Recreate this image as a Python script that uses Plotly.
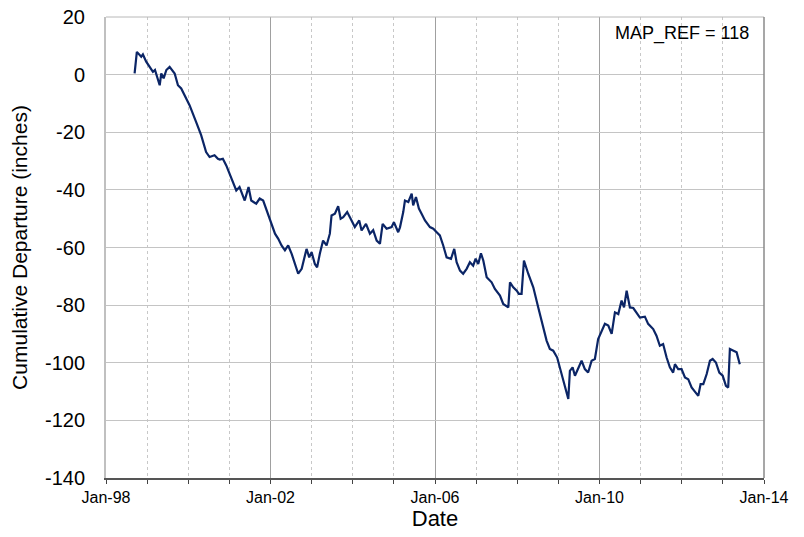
import plotly.graph_objects as go

# Cumulative departure series (date, inches)
dates = [
    "1998-09-12", "1998-10-02", "1998-11-10", "1998-11-25", "1998-12-24", "1999-01-24",
    "1999-02-22", "1999-03-12", "1999-04-23", "1999-05-07", "1999-05-28", "1999-06-21",
    "1999-07-20", "1999-09-03", "1999-10-02", "1999-10-31", "1999-12-14", "2000-01-13",
    "2000-03-11", "2000-04-25", "2000-06-08", "2000-07-09", "2000-08-22", "2000-09-21",
    "2000-10-08", "2000-11-04", "2000-12-04", "2001-01-17", "2001-03-03", "2001-04-01",
    "2001-05-17", "2001-06-20", "2001-07-14", "2001-08-27", "2001-09-27", "2001-10-28",
    "2001-11-28", "2002-01-11", "2002-02-10", "2002-03-11", "2002-04-09", "2002-05-09",
    "2002-06-07", "2002-07-08", "2002-08-06", "2002-09-04", "2002-10-05", "2002-10-25",
    "2002-11-17", "2002-12-11", "2003-01-01", "2003-01-30", "2003-02-19", "2003-03-15",
    "2003-04-13", "2003-05-14", "2003-06-12", "2003-06-27", "2003-07-27", "2003-08-25",
    "2003-09-16", "2003-10-09", "2003-11-13", "2003-12-14", "2004-01-20", "2004-02-28",
    "2004-03-20", "2004-04-28", "2004-06-02", "2004-07-01", "2004-08-01", "2004-08-30",
    "2004-09-23", "2004-10-28", "2004-12-12", "2005-01-01", "2005-02-08", "2005-02-24",
    "2005-03-25", "2005-04-09", "2005-05-09", "2005-06-08", "2005-06-21", "2005-07-16",
    "2005-08-11", "2005-09-04", "2005-10-04", "2005-11-17", "2005-12-17", "2006-01-16",
    "2006-02-13", "2006-03-15", "2006-04-14", "2006-05-23", "2006-06-21", "2006-07-12",
    "2006-08-11", "2006-09-08", "2006-10-09", "2006-11-07", "2006-12-06", "2006-12-28",
    "2007-01-20", "2007-02-13", "2007-03-06", "2007-04-05", "2007-05-19", "2007-06-17",
    "2007-08-01", "2007-08-30", "2007-10-14", "2007-10-29", "2007-11-27", "2007-12-28",
    "2008-01-16", "2008-02-09", "2008-03-01", "2008-04-08", "2008-05-23", "2008-07-06",
    "2008-08-19", "2008-09-18", "2008-10-17", "2008-11-16", "2008-12-21", "2009-01-30",
    "2009-02-28", "2009-03-30", "2009-04-13", "2009-05-07", "2009-05-28", "2009-06-26",
    "2009-07-26", "2009-08-24", "2009-09-22", "2009-10-23", "2009-11-21", "2009-12-20",
    "2010-01-20", "2010-02-18", "2010-03-20", "2010-04-19", "2010-05-18", "2010-06-17",
    "2010-07-16", "2010-08-07", "2010-08-30", "2010-09-28", "2010-10-28", "2010-11-27",
    "2010-12-26", "2011-02-08", "2011-03-09", "2011-04-23", "2011-05-22", "2011-06-21",
    "2011-07-20", "2011-08-20", "2011-09-18", "2011-10-17", "2011-11-02", "2011-12-01",
    "2011-12-31", "2012-01-30", "2012-02-28", "2012-03-29", "2012-04-28", "2012-05-27",
    "2012-06-17", "2012-07-11", "2012-08-10", "2012-09-08", "2012-10-02", "2012-10-31",
    "2012-11-30", "2012-12-30", "2013-01-28", "2013-02-17", "2013-03-04", "2013-04-02",
    "2013-05-03", "2013-05-31",
]
departure = [
    0.4, 7.9, 6.2, 7.0, 4.5, 2.7,
    1.0, 1.6, -3.7, 0.4, -1.3, 1.6,
    2.7, 0.4, -3.7, -4.8, -8.3, -10.6,
    -16.4, -21.0, -26.9, -28.6, -28.0, -29.2,
    -29.5, -29.2, -31.5, -35.5, -40.2, -39.0,
    -43.7, -39.0, -43.7, -44.8, -43.0, -43.7,
    -47.1, -51.2, -55.2, -57.0, -59.3, -61.0,
    -59.3, -62.2, -65.7, -69.1, -67.4, -64.5,
    -60.5, -63.4, -61.6, -65.7, -66.9, -62.2,
    -57.6, -59.3, -55.2, -48.9, -48.3, -45.7,
    -50.0, -49.5, -47.7, -50.0, -52.9, -50.6,
    -54.1, -51.8, -55.2, -54.0, -57.6, -58.7,
    -51.8, -53.5, -52.9, -51.2, -54.7, -53.0,
    -47.7, -43.7, -44.2, -41.3, -45.4, -42.5,
    -46.5, -48.3, -50.6, -52.9, -53.5, -54.7,
    -55.8, -59.3, -63.4, -63.9, -60.5, -65.1,
    -68.0, -69.1, -67.4, -65.1, -66.3, -63.9,
    -65.7, -62.0, -64.5, -70.3, -72.1, -74.4,
    -76.7, -79.6, -80.8, -72.1, -73.8, -75.0,
    -76.1, -76.1, -64.5, -69.1, -73.8, -80.8,
    -88.3, -92.3, -95.2, -95.8, -98.2, -103.9,
    -108.0, -112.6, -102.8, -101.6, -104.5, -101.6,
    -99.3, -102.2, -103.4, -99.3, -98.7, -91.8,
    -88.9, -86.5, -87.1, -90.0, -82.5, -83.1,
    -78.4, -80.8, -75.0, -80.8, -81.0, -82.5,
    -84.3, -84.0, -86.5, -88.3, -90.6, -94.1,
    -93.5, -98.2, -101.6, -103.4, -100.5, -102.2,
    -102.2, -105.1, -105.7, -108.6, -110.3, -111.5,
    -107.4, -107.4, -103.9, -99.3, -98.7, -99.9,
    -103.4, -104.5, -108.0, -108.6, -95.2, -95.8,
    -96.4, -100.5,
]

x_range = ["1998-01-01", "2014-01-01"]
y_ticks = [-140, -120, -100, -80, -60, -40, -20, 0, 20]
y_ticktext = [str(v) for v in y_ticks]
map_ref = 118

fig = go.Figure()
fig.add_trace(go.Scatter(
    x=dates, y=departure, mode="lines",
    line=dict(color="#0b2566", width=2.2),
    showlegend=False,
))

font_family = "Liberation Sans, Arial, sans-serif"

fig.update_layout(
    width=804, height=537,
    margin=dict(l=106, r=40, t=17, b=59),
    paper_bgcolor="white", plot_bgcolor="white",
    font=dict(family=font_family, color="#000000"),
    xaxis=dict(
        type="date", range=x_range, automargin=False,
        dtick="M48", tick0="1998-01-01", tickformat="%b-%y",
        showgrid=True, gridcolor="#a0a0a0", gridwidth=1,
        ticks="outside", ticklen=4, tickcolor="#444444",
        showline=True, linecolor="#555555", linewidth=2,
        tickfont=dict(size=16),
        title=dict(text="Date", font=dict(size=22), standoff=4),
        minor=dict(dtick="M12", tick0="1998-01-01", showgrid=True,
                   gridcolor="#c8c8c8", griddash="3px,3px", gridwidth=1,
                   ticks="outside", ticklen=4, tickcolor="#444444"),
        zeroline=False,
    ),
    yaxis=dict(
        range=[-140, 20], automargin=False,
        tickvals=y_ticks, ticktext=y_ticktext,
        showgrid=True, gridcolor="#c4c4c4", gridwidth=1,
        showline=True, linecolor="#c0c0c0", linewidth=2,
        ticks="", ticklabelstandoff=15,
        tickfont=dict(size=20),
        title=dict(text="Cumulative Departure (inches)", font=dict(size=21), standoff=12),
        zeroline=False,
    ),
    shapes=[
        dict(type="line", xref="paper", yref="paper", x0=0, x1=1, y0=1, y1=1,
             line=dict(color="#b8b8b8", width=1)),
        dict(type="line", xref="paper", yref="paper", x0=1, x1=1, y0=0, y1=1,
             line=dict(color="#8a8a8a", width=1.5)),
    ],
    annotations=[
        dict(text=f"MAP_REF = {map_ref}", xref="paper", yref="paper",
             x=0.98, y=0.965, xanchor="right", yanchor="middle",
             showarrow=False, font=dict(size=18, color="#000000")),
    ],
)

fig.write_html("out.html")
